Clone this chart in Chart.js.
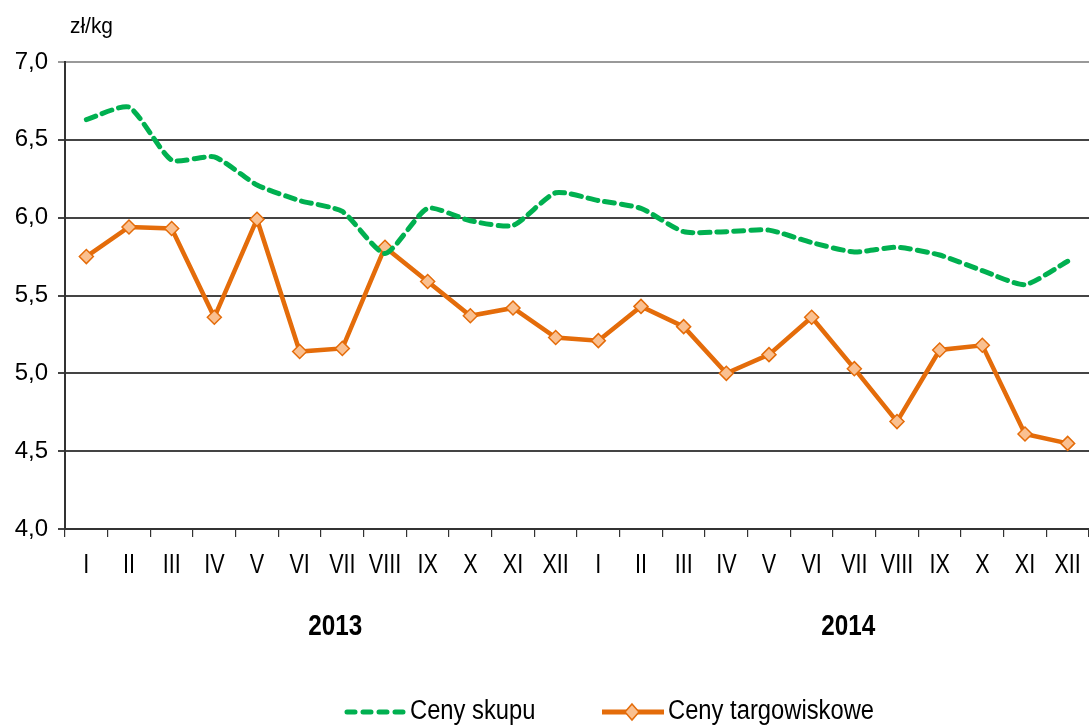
<!DOCTYPE html>
<html>
<head>
<meta charset="utf-8">
<script src="https://cdn.jsdelivr.net/npm/chart.js@4/dist/chart.umd.min.js"></script>
<style>
  html, body { margin: 0; padding: 0; background: #fff; overflow: hidden; }
  #wrap { width: 1089px; height: 727px; }
  canvas { display: block; }
</style>
</head>
<body>
<div id="wrap"><canvas id="priceChart" width="1089" height="727"></canvas></div>
<script>
const months = ['I', 'II', 'III', 'IV', 'V', 'VI', 'VII', 'VIII', 'IX', 'X', 'XI', 'XII',
                'I', 'II', 'III', 'IV', 'V', 'VI', 'VII', 'VIII', 'IX', 'X', 'XI', 'XII'];
const years = ['2013', '2014'];
const cenySkupu = [6.63, 6.71, 6.37, 6.39, 6.21, 6.11, 6.04, 5.77, 6.06, 5.98, 5.95, 6.16,
                   6.11, 6.06, 5.91, 5.91, 5.92, 5.84, 5.78, 5.81, 5.76, 5.66, 5.57, 5.72];
const cenyTargowiskowe = [5.75, 5.94, 5.93, 5.36, 5.99, 5.14, 5.16, 5.81, 5.59, 5.37, 5.42, 5.23,
                          5.21, 5.43, 5.30, 5.00, 5.12, 5.36, 5.03, 4.69, 5.15, 5.18, 4.61, 4.55];
const yTicks = [4.0, 4.5, 5.0, 5.5, 6.0, 6.5, 7.0];
const unitLabel = 'zł/kg';

const fontFamily = '"Liberation Sans", Arial, sans-serif';
const green = '#00B050';
const orange = '#E46C0A';

function formatTick(v) {
    return v.toFixed(1).replace('.', ',');
}

// Arial Narrow is not installed, so squeeze Liberation Sans horizontally
function narrowText(ctx, text, x, y, font, align, squeeze) {
    ctx.save();
    ctx.font = font;
    ctx.textAlign = align;
    ctx.textBaseline = 'middle';
    ctx.translate(x, y);
    ctx.scale(squeeze, 1);
    ctx.fillText(text, 0, 0);
    ctx.restore();
}

const extrasPlugin = {
    id: 'extras',
    afterDraw(chart) {
        const ctx = chart.ctx;
        const x = chart.scales.x;
        ctx.save();
        ctx.fillStyle = '#000';

        narrowText(ctx, unitLabel, 70, 27, '22px ' + fontFamily, 'left', 0.95);

        // month labels
        chart.data.labels.forEach((label, i) => {
            narrowText(ctx, label, x.getPixelForValue(i), 566, '27px ' + fontFamily, 'center', 0.8);
        });

        // year labels
        narrowText(ctx, years[0], x.getPixelForValue(6) - 7, 627, 'bold 30px ' + fontFamily, 'center', 0.81);
        narrowText(ctx, years[1], x.getPixelForValue(18) - 6, 627, 'bold 30px ' + fontFamily, 'center', 0.81);

        // legend
        const ly = 712;
        ctx.strokeStyle = green;
        ctx.lineWidth = 5;
        ctx.lineCap = 'round';
        ctx.setLineDash([8, 8]);
        ctx.beginPath();
        ctx.moveTo(347, ly);
        ctx.lineTo(405, ly);
        ctx.stroke();
        ctx.setLineDash([]);
        narrowText(ctx, chart.data.datasets[0].label, 410, ly, '27px ' + fontFamily, 'left', 0.88);

        ctx.strokeStyle = orange;
        ctx.lineWidth = 5;
        ctx.lineCap = 'butt';
        ctx.beginPath();
        ctx.moveTo(602, ly);
        ctx.lineTo(664, ly);
        ctx.stroke();
        ctx.fillStyle = '#FAC090';
        ctx.lineWidth = 1.5;
        ctx.beginPath();
        ctx.moveTo(632, ly - 8);
        ctx.lineTo(639, ly);
        ctx.lineTo(632, ly + 8);
        ctx.lineTo(625, ly);
        ctx.closePath();
        ctx.fill();
        ctx.stroke();
        ctx.fillStyle = '#000';
        narrowText(ctx, chart.data.datasets[1].label, 668, ly, '27px ' + fontFamily, 'left', 0.88);

        ctx.restore();
    }
};

const chartElement = document.getElementById('priceChart').getContext('2d');

new Chart(chartElement, {
    type: 'line',
    data: {
        labels: months,
        datasets: [
            {
                label: 'Ceny skupu',
                data: cenySkupu,
                borderColor: green,
                borderWidth: 5,
                borderDash: [10, 7],
                borderCapStyle: 'round',
                tension: 0.2,
                pointRadius: 0,
                fill: false,
            },
            {
                label: 'Ceny targowiskowe',
                data: cenyTargowiskowe,
                borderColor: orange,
                borderWidth: 4.5,
                tension: 0,
                pointStyle: 'rectRot',
                pointRadius: 7,
                pointBackgroundColor: '#FAC090',
                pointBorderColor: orange,
                pointBorderWidth: 1.5,
                fill: false,
            },
        ],
    },
    options: {
        responsive: false,
        animation: false,
        layout: {
            autoPadding: false,
            padding: { top: 62, right: 0, left: 0, bottom: 0 },
        },
        plugins: {
            legend: { display: false },
            tooltip: { enabled: false },
        },
        scales: {
            x: {
                offset: true,
                afterFit: scale => { scale.height = 727 - 62 - 467; },
                grid: {
                    offset: true,
                    drawOnChartArea: false,
                    drawTicks: true,
                    tickLength: 8,
                    color: '#333',
                    lineWidth: 1.2,
                },
                border: { color: '#333', width: 2 },
                ticks: {
                    display: false,
                    autoSkip: false,
                    maxRotation: 0,
                },
            },
            y: {
                min: 4,
                max: 7,
                afterFit: scale => { scale.width = 65; },
                afterBuildTicks: scale => { scale.ticks = yTicks.map(v => ({ value: v })); },
                grid: {
                    color: ctx => (ctx.tick && ctx.tick.value === 7 ? '#999' : '#444'),
                    lineWidth: 2,
                    tickLength: 7,
                },
                border: { color: '#333', width: 2 },
                ticks: {
                    color: '#000',
                    font: { family: fontFamily, size: 24 },
                    padding: 10,
                    callback: value => formatTick(value),
                },
            },
        },
    },
    plugins: [extrasPlugin],
});
</script>
</body>
</html>
